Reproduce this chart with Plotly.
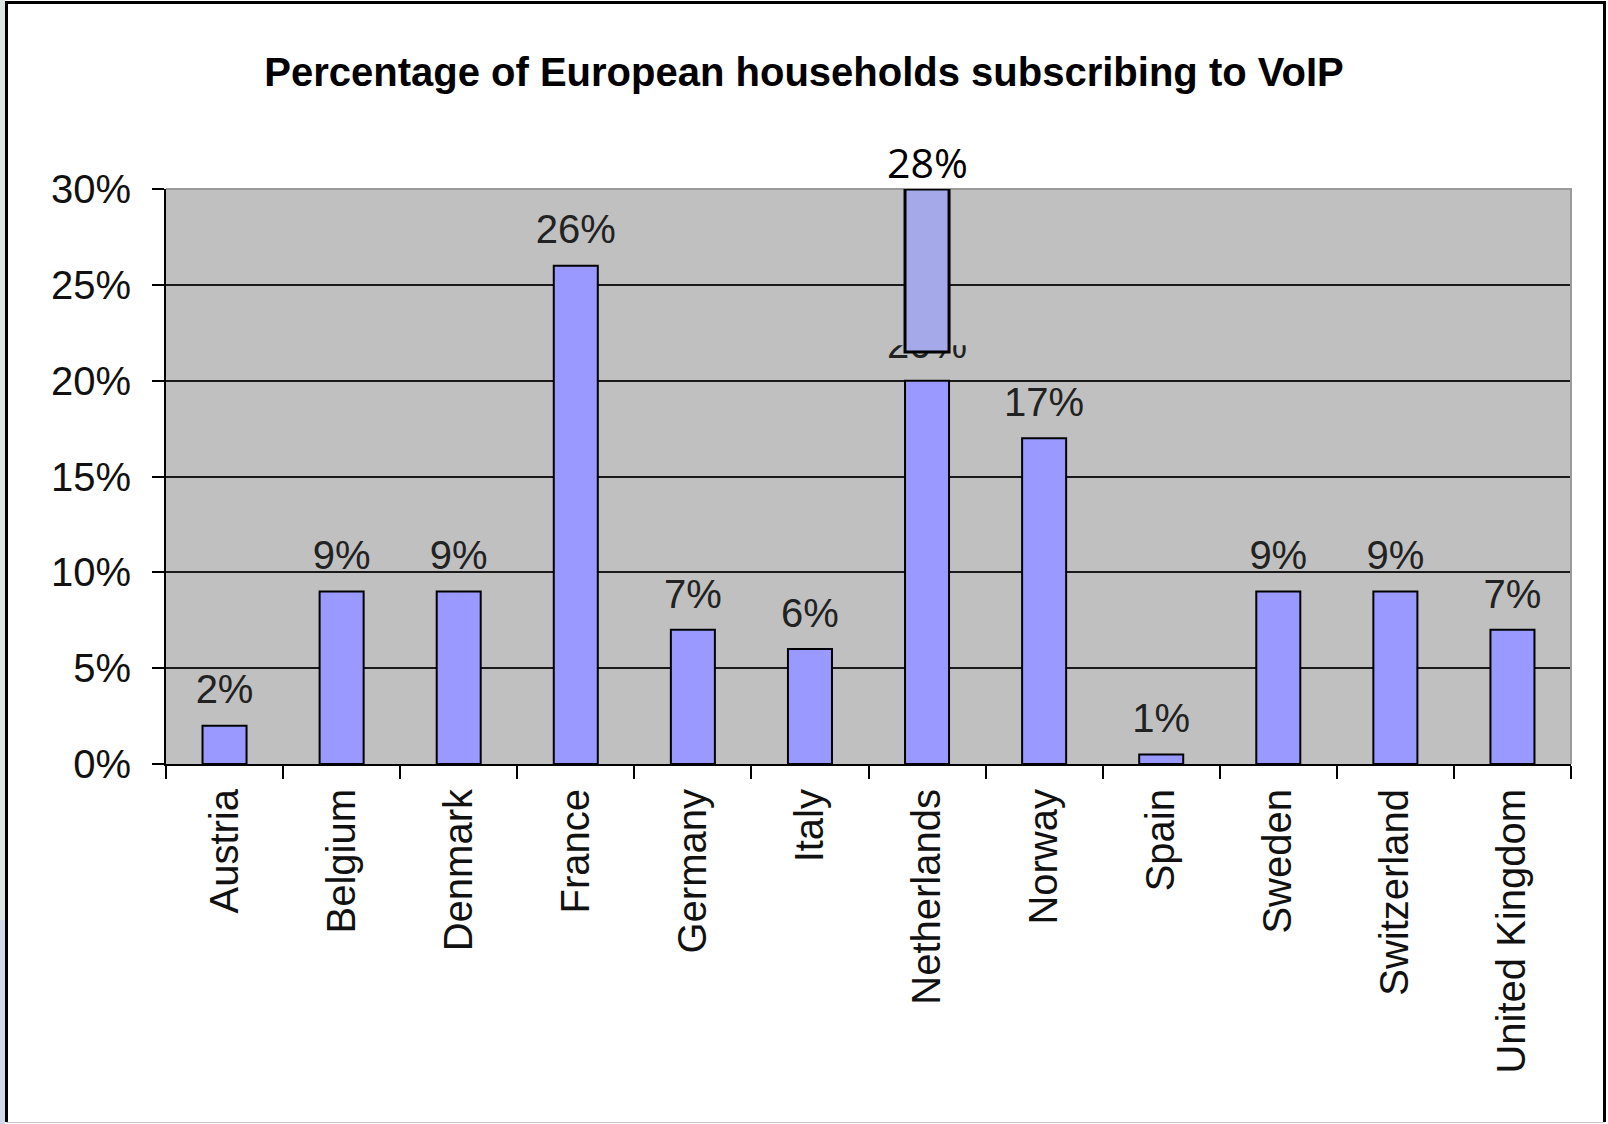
import plotly.graph_objects as go

countries = ["Austria", "Belgium", "Denmark", "France", "Germany", "Italy",
             "Netherlands", "Norway", "Spain", "Sweden", "Switzerland", "United Kingdom"]
values = [2, 9, 9, 26, 7, 6, 20, 17, 0.5, 9, 9, 7]
labels = ["2%", "9%", "9%", "26%", "7%", "6%", "20%", "17%", "1%", "9%", "9%", "7%"]
y_ticks = [0, 5, 10, 15, 20, 25, 30]
y_tick_labels = ["0%", "5%", "10%", "15%", "20%", "25%", "30%"]

# overlay patch on the Netherlands bar (pasted-over corrected value)
patch_country = "Netherlands"
patch_range = [21.5, 30]
patch_label = "28%"

title = "Percentage of European households subscribing to VoIP"

W, H = 1608, 1124
L, R, T, B = 166, 37, 189, 360
pw, ph = W - L - R, H - T - B
BAR_W = 0.376


def px(p):
    return (p - L) / pw


def py(q):
    return (H - B - q) / ph


fig = go.Figure()
fig.add_trace(go.Bar(
    x=countries, y=values,
    marker=dict(color="#9999ff", line=dict(color="#000000", width=2)),
    width=BAR_W, hoverinfo="skip", showlegend=False,
))
fig.add_trace(go.Scatter(
    x=countries, y=values, mode="markers+text", text=labels,
    textposition="top center",
    marker=dict(size=18, opacity=0),
    textfont=dict(family="Liberation Sans, Arial", size=40, color="#222222"),
    hoverinfo="skip", showlegend=False, cliponaxis=False,
))

shapes = []
pi = countries.index(patch_country)
# grey cover pasted with the patch (hides most of the old label)
shapes.append(dict(type="rect", xref="x", yref="y",
                   x0=pi - 0.36, x1=pi + 0.36,
                   y0=patch_range[0] + 0.35, y1=patch_range[0] + 2.6,
                   fillcolor="#c0c0c0", line=dict(width=0), layer="above"))
# plot-area border (top/right)
shapes.append(dict(type="path", xref="paper", yref="paper",
                   path="M 0,1 L 1,1 L 1,0",
                   line=dict(color="#9a9a9a", width=2), layer="above"))
# patch rectangle
shapes.append(dict(type="rect", xref="x", yref="y",
                   x0=pi - BAR_W / 2, x1=pi + BAR_W / 2,
                   y0=patch_range[0], y1=patch_range[1],
                   fillcolor="#a5a9ea", line=dict(color="#000000", width=3),
                   layer="above"))
# left strip outside frame
shapes.append(dict(type="rect", xref="paper", yref="paper",
                   x0=px(0), x1=px(5), y0=py(920), y1=py(0),
                   fillcolor="#dde6e2", line=dict(width=0), layer="below"))
shapes.append(dict(type="rect", xref="paper", yref="paper",
                   x0=px(0), x1=px(5), y0=py(H), y1=py(920),
                   fillcolor="#d3d8ea", line=dict(width=0), layer="below"))
# outer frame
shapes.append(dict(type="path", xref="paper", yref="paper",
                   path=f"M {px(6.5)},{py(H - 2)} L {px(6.5)},{py(2.5)} L {px(1604.5)},{py(2.5)} L {px(1604.5)},{py(H - 2)}",
                   line=dict(color="#000000", width=3), layer="above"))
shapes.append(dict(type="line", xref="paper", yref="paper",
                   x0=px(6.5), x1=px(1604.5), y0=py(H - 1.5), y1=py(H - 1.5),
                   line=dict(color="#c8c8c8", width=1), layer="above"))

fig.update_layout(
    width=W, height=H,
    margin=dict(l=L, r=R, t=T, b=B, pad=0),
    paper_bgcolor="#ffffff", plot_bgcolor="#c0c0c0",
    title=dict(text="<b>" + title + "</b>", x=0.5, xanchor="center",
               xref="container", y=1 - 72 / H, yanchor="middle",
               font=dict(family="Liberation Sans, Arial", size=40, color="#000000")),
    bargap=0.62,
    shapes=shapes,
    annotations=[dict(x=patch_country, y=patch_range[1], xref="x", yref="y",
                      text=patch_label, showarrow=False, yanchor="middle",
                      yshift=27,
                      font=dict(family="Open Sans", size=41, color="#000000"))],
)
fig.update_xaxes(
    type="category", showgrid=False, showline=True, linecolor="#000000", linewidth=2,
    ticks="outside", tickson="boundaries", ticklen=13, tickwidth=2, tickcolor="#000000",
    tickangle=-90, ticklabelstandoff=7,
    tickfont=dict(family="Liberation Sans, Arial", size=40, color="#111111"),
    range=[-0.5, len(countries) - 0.5],
)
fig.update_yaxes(
    range=[0, 30], tickvals=y_ticks, ticktext=y_tick_labels,
    showgrid=True, gridcolor="#1a1a1a", gridwidth=2,
    showline=True, linecolor="#000000", linewidth=2,
    ticks="outside", ticklen=12, tickwidth=2, tickcolor="#000000",
    ticklabelstandoff=13,
    tickfont=dict(family="Liberation Sans, Arial", size=40, color="#111111"),
    zeroline=False,
)

fig.write_html("out.html")
